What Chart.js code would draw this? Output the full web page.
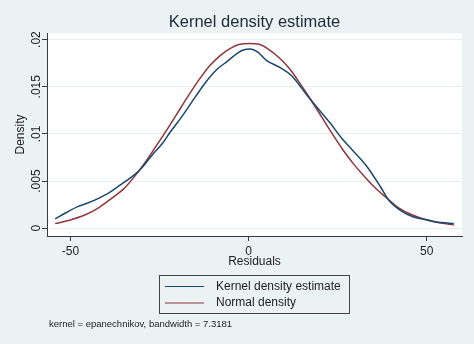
<!DOCTYPE html>
<html><head><meta charset="utf-8">
<script src="https://cdn.jsdelivr.net/npm/chart.js@4"></script>
<style>html,body{margin:0;padding:0;background:#eaf2f3}canvas{display:block}</style>
</head><body>
<canvas id="c" width="474" height="344"></canvas>
<script>
// ---- data ----
const kernelX = [-54.3,-51,-48,-45,-42,-39,-36,-33,-30,-27,-24,-22,-19,-15,-12,-9,-6,-3,-1.5,0.5,2.5,5,9,12,16.4,19,23,26,28.6,33.3,37,39.3,42.6,46.3,50,54,57.6];
const kernelY = [0.0010,0.0017,0.0023,0.0027,0.0032,0.0038,0.0046,0.0054,0.0064,0.0078,0.0091,0.0102,0.0117,0.0139,0.0155,0.0168,0.0177,0.0186,0.0189,0.0190,0.0187,0.0178,0.0170,0.0162,0.0141,0.0129,0.0111,0.0096,0.0085,0.0065,0.0044,0.0030,0.0019,0.0012,0.0009,0.0006,0.0005];
const normalX = [-54.3,-50,-46,-42,-38,-35,-32,-29,-26,-23,-20,-17,-14,-11,-8,-5,-2.5,0.3,3,5.5,8.5,11.5,14.5,17.5,20.5,23.5,26.5,29.5,32.5,35.5,38.5,42,46,50,54,57.6];
const normalY = [0.0005,0.00088,0.0014,0.0022,0.0033,0.0042,0.0055,0.0070,0.0087,0.0104,0.0122,0.0140,0.0157,0.0172,0.0183,0.0191,0.0195,0.0196,0.0195,0.0190,0.0181,0.0169,0.0153,0.0136,0.0118,0.0100,0.0083,0.0068,0.0055,0.0043,0.0033,0.0022,0.0014,0.00088,0.00055,0.00035];
const xTicks = [-50, 0, 50];
const xTickLabels = ['-50', '0', '50'];
const yTicks = [0, 0.005, 0.01, 0.015, 0.02];
const yTickLabels = ['0', '.005', '.01', '.015', '.02'];
const seriesNames = ['Kernel density estimate', 'Normal density'];
const titleText = 'Kernel density estimate';
const xTitle = 'Residuals';
const yTitle = 'Density';
const noteText = 'kernel = epanechnikov, bandwidth = 7.3181';

const BG = '#eaf2f3';
const NAVY = '#1a476f';
const MAROON = '#90353b';
const TXT = '#1e1e1e';
const AX = '#3a3a3a';
const FONT = "'Liberation Sans', Arial, sans-serif";
Chart.defaults.font.family = FONT;
Chart.defaults.color = TXT;

const deco = {
  id: 'deco',
  beforeDraw(chart) {
    const {ctx, chartArea: a} = chart;
    ctx.save();
    ctx.fillStyle = BG;
    ctx.fillRect(0, 0, chart.width, chart.height);
    ctx.fillStyle = '#ffffff';
    ctx.fillRect(a.left, a.top, a.right - a.left, a.bottom - a.top);
    ctx.restore();
  },
  afterDraw(chart) {
    const {ctx, chartArea: a} = chart;
    const ys = chart.scales.y;
    ctx.save();
    // y tick labels, rotated
    ctx.fillStyle = TXT;
    ctx.font = '12px ' + FONT;
    ctx.textAlign = 'center';
    ctx.textBaseline = 'alphabetic';
    yTicks.forEach((v, i) => {
      const py = ys.getPixelForValue(v);
      ctx.save();
      ctx.translate(39.5, py);
      ctx.rotate(-Math.PI / 2);
      ctx.fillText(yTickLabels[i], 0, 0);
      ctx.restore();
    });
    // title
    ctx.font = '16.5px ' + FONT;
    ctx.fillStyle = '#1e2a38';
    ctx.textBaseline = 'middle';
    ctx.fillText(titleText, (a.left + a.right) / 2, 22);
    // legend box
    ctx.strokeStyle = '#444';
    ctx.lineWidth = 1;
    ctx.strokeRect(159.5, 275.5, 190, 38);
    const rows = [[NAVY, 286.5], [MAROON, 303]];
    ctx.font = '12px ' + FONT;
    ctx.textAlign = 'left';
    rows.forEach((r, i) => {
      ctx.strokeStyle = r[0];
      ctx.lineWidth = 1.2;
      ctx.beginPath();
      ctx.moveTo(165, r[1]);
      ctx.lineTo(204, r[1]);
      ctx.stroke();
      ctx.fillStyle = TXT;
      ctx.fillText(seriesNames[i], 216, r[1]);
    });
    // note
    ctx.font = '9.5px ' + FONT;
    ctx.fillText(noteText, 49, 324);
    ctx.restore();
  }
};

new Chart(document.getElementById('c'), {
  type: 'line',
  data: {
    datasets: [
      {label: seriesNames[0], data: kernelX.map((x, i) => ({x, y: kernelY[i]})), borderColor: NAVY, borderWidth: 1.5, pointRadius: 0, cubicInterpolationMode: 'monotone', fill: false},
      {label: seriesNames[1], data: normalX.map((x, i) => ({x, y: normalY[i]})), borderColor: MAROON, borderWidth: 1.5, pointRadius: 0, cubicInterpolationMode: 'monotone', fill: false}
    ]
  },
  options: {
    responsive: false,
    devicePixelRatio: 1,
    animation: false,
    layout: {padding: {left: 0, top: 33, right: 12, bottom: 75}},
    plugins: {legend: {display: false}, title: {display: false}, tooltip: {enabled: false}},
    scales: {
      x: {
        type: 'linear', min: -56.6, max: 59.9,
        afterBuildTicks: s => { s.ticks = xTicks.map(v => ({value: v})); },
        afterFit: s => { s.height = 33; },
        ticks: {font: {size: 12}, color: TXT, padding: 3, autoSkip: false, maxRotation: 0,
                callback: (v) => { const i = xTicks.indexOf(v); return i >= 0 ? xTickLabels[i] : ''; }},
        grid: {drawOnChartArea: false, drawTicks: true, tickLength: 5, tickColor: AX},
        border: {color: AX, width: 1},
        title: {display: true, text: xTitle, font: {size: 12}, color: TXT, padding: {top: 0, bottom: 0}}
      },
      y: {
        type: 'linear', min: -0.00082, max: 0.0207,
        afterBuildTicks: s => { s.ticks = yTicks.map(v => ({value: v})); },
        afterFit: s => { s.width = 47; },
        ticks: {display: false},
        grid: {color: '#e6eef0', lineWidth: 1, drawTicks: true, tickLength: 5, tickColor: AX},
        border: {color: AX, width: 1},
        title: {display: true, text: yTitle, font: {size: 12}, color: TXT, padding: {top: 13, bottom: 0}}
      }
    }
  },
  plugins: [deco]
});
</script>
</body></html>
